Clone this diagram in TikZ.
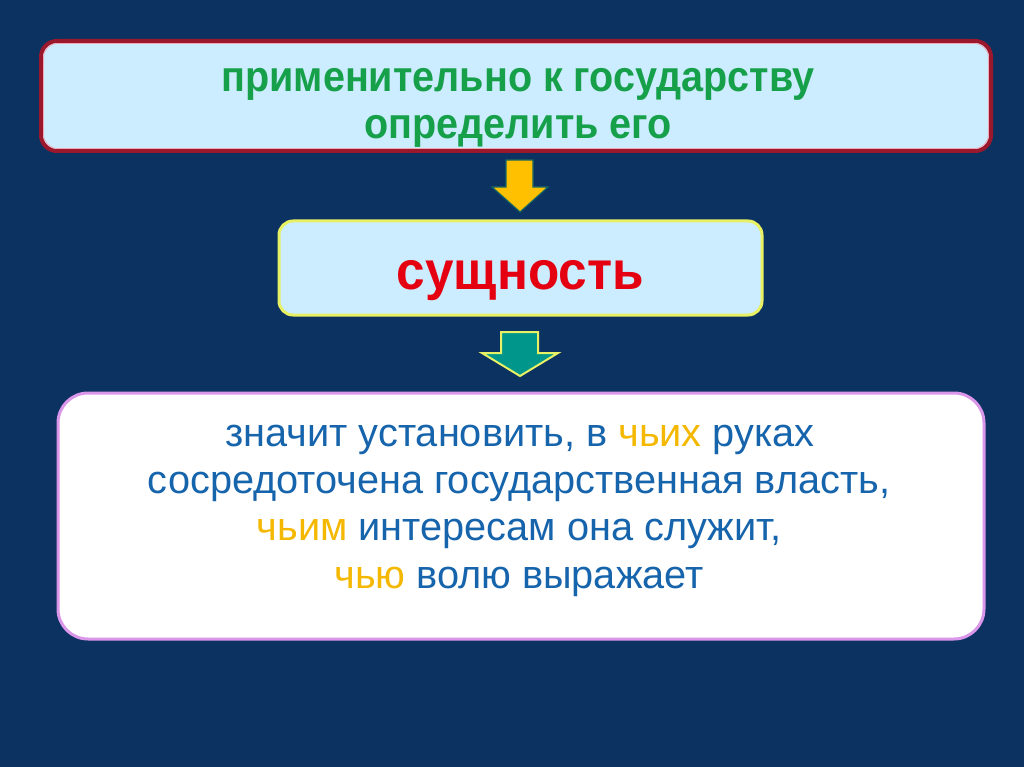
\documentclass[tikz,border=0pt]{standalone}
\usepackage{fontspec}
\setmainfont{Liberation Sans}
\newfontfamily\topfont[FakeStretch=0.92]{Liberation Sans}
\newfontfamily\midfont[FakeStretch=0.95]{Liberation Sans}
\definecolor{bgnavy}{RGB}{12,50,98}
\definecolor{boxblue}{RGB}{204,236,255}
\definecolor{darkred}{RGB}{155,24,44}
\definecolor{pinkedge}{RGB}{240,170,180}
\definecolor{txtgreen}{RGB}{22,160,74}
\definecolor{txtred}{RGB}{228,0,16}
\definecolor{txtblue}{RGB}{22,100,172}
\definecolor{txtyellow}{RGB}{245,184,0}
\definecolor{borderyellow}{RGB}{232,240,100}
\definecolor{bordervio}{RGB}{218,150,232}
\definecolor{arrowgold}{RGB}{255,192,0}
\definecolor{arrowteal}{RGB}{0,150,140}
\definecolor{arrowedge}{RGB}{20,100,100}
\begin{document}
\begin{tikzpicture}[x=1pt,y=-1pt,
  txt/.style={anchor=base,inner sep=0pt},
  greentxt/.style={txt,text=txtgreen,font=\topfont\bfseries\fontsize{43}{46}\selectfont},
  bluetxt/.style={txt,text=txtblue,font=\fontsize{39.7}{47}\selectfont}]
\fill[bgnavy] (0,0) rectangle (1024,767);
\useasboundingbox (0,0) rectangle (1024,767);
% box 1
\filldraw[rounded corners=16pt,fill=boxblue,draw=darkred,line width=4pt] (41,41) rectangle (991,151);
\draw[rounded corners=14pt,draw=pinkedge,line width=0.8pt] (43.5,43.5) rectangle (988.5,148.5);
\node[greentxt] (t1a) at (518,92) {применительно к государству};
\node[greentxt] (t1b) at (518,139) {определить его};
% arrow 1
\filldraw[fill=arrowgold,draw=arrowedge,line width=1.2pt,line join=miter]
  (506,160) -- (533,160) -- (533,187) -- (548,187) -- (520,212) -- (492,187) -- (506,187) -- cycle;
% box 2
\filldraw[rounded corners=14pt,fill=boxblue,draw=borderyellow,line width=3pt] (279,221) rectangle (762,315);
\node[txt,text=txtred,font=\midfont\bfseries\fontsize{54}{60}\selectfont] (t2) at (520.5,289) {сущность};
% arrow 2
\filldraw[fill=arrowteal,draw=borderyellow,line width=2pt,line join=miter]
  (501,332) -- (538,332) -- (538,353) -- (558,353) -- (520,376) -- (482,353) -- (501,353) -- cycle;
% box 3
\filldraw[rounded corners=30pt,fill=white,draw=bordervio,line width=3pt] (58,393) rectangle (984,639);
\node[bluetxt] (t3a) at (520,446) {значит установить, в \textcolor{txtyellow}{чьих} руках};
\node[bluetxt] (t3b) at (519,493) {сосредоточена государственная власть,};
\node[bluetxt] (t3c) at (519,540.5) {\textcolor{txtyellow}{чьим} интересам она служит,};
\node[bluetxt] (t3d) at (519,588) {\textcolor{txtyellow}{чью} волю выражает};
\end{tikzpicture}
\end{document}
